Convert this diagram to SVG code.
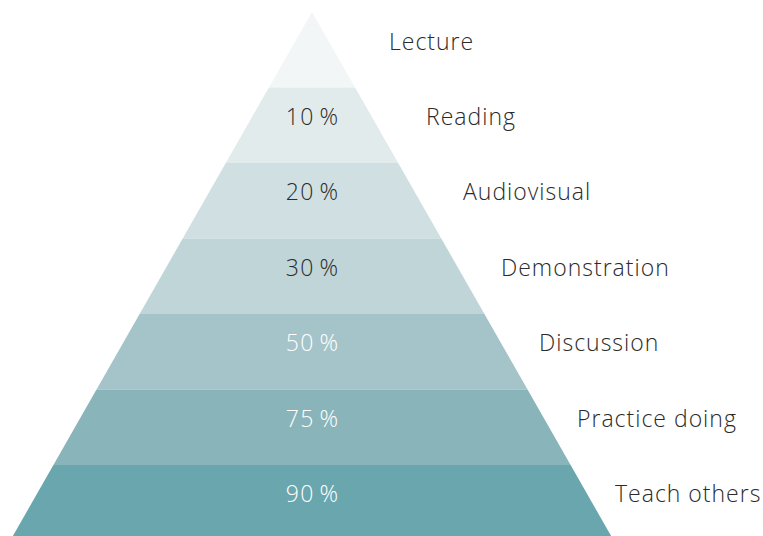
<svg xmlns="http://www.w3.org/2000/svg" width="763" height="536" viewBox="0 0 763 536">
<style>
.pct{font-family:"Open Sans","Liberation Sans",sans-serif;font-weight:300;font-size:23px;letter-spacing:1.2px;text-anchor:middle}
.lbl{font-family:"Open Sans","Liberation Sans",sans-serif;font-weight:300;font-size:23px;letter-spacing:1px;fill:#2b2b2b}
.dark{fill:#2b2b2b}
.light{fill:#ffffff}
</style>
<defs>
<clipPath id="tri"><polygon points="312,12 12.3,537 611.7,537"/></clipPath>
</defs>
<rect width="763" height="536" fill="#ffffff"/>
<g clip-path="url(#tri)">
<g id="band1"><rect x="0" y="0" width="763" height="87.5" fill="#f2f6f7"/></g>
<g id="band2"><rect x="0" y="87.5" width="763" height="75.5" fill="#e2ebec"/><text class="pct dark" x="312.6" y="125">10&#8201;%</text></g>
<g id="band3"><rect x="0" y="163" width="763" height="75.5" fill="#d0dfe1"/><text class="pct dark" x="312.6" y="200">20&#8201;%</text></g>
<g id="band4"><rect x="0" y="238.5" width="763" height="75.5" fill="#bfd5d8"/><text class="pct dark" x="312.6" y="276">30&#8201;%</text></g>
<g id="band5"><rect x="0" y="314" width="763" height="75.5" fill="#a5c4c9"/><text class="pct light" x="312.6" y="351">50&#8201;%</text></g>
<g id="band6"><rect x="0" y="389.5" width="763" height="75.5" fill="#89b4ba"/><text class="pct light" x="312.6" y="427">75&#8201;%</text></g>
<g id="band7"><rect x="0" y="465" width="763" height="75" fill="#6aa6ae"/><text class="pct light" x="312.6" y="502">90&#8201;%</text></g>
</g>
<g id="labels">
<text class="lbl" x="389" y="50">Lecture</text>
<text class="lbl" x="426" y="125">Reading</text>
<text class="lbl" x="463" y="200">Audiovisual</text>
<text class="lbl" x="501" y="276">Demonstration</text>
<text class="lbl" x="539" y="351">Discussion</text>
<text class="lbl" x="577" y="427">Practice doing</text>
<text class="lbl" x="615" y="502">Teach others</text>
</g>
<g id="connectors"></g>
</svg>
